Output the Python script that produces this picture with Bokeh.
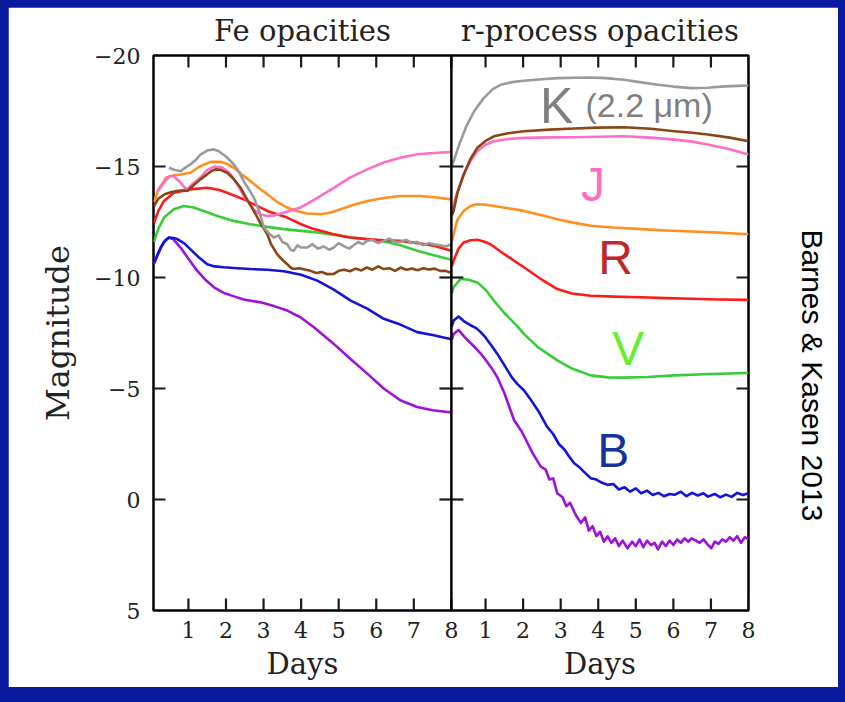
import math
import numpy as np
from bokeh.plotting import figure
from bokeh.layouts import column
from bokeh.models import (Range1d, LinearAxis, FixedTicker, Label, Span,
                          CustomJSTickFormatter)
from bokeh.embed import file_html
from bokeh.resources import INLINE

# ---------------- data ----------------
panel_titles = ["Fe opacities", "r-process opacities"]
x_axis_label = "Days"
y_axis_label = "Magnitude"
x_ticks = [1, 2, 3, 4, 5, 6, 7, 8]
y_ticks = [-20, -15, -10, -5, 0, 5]
band_names = ["U", "B", "V", "R", "I", "J", "H", "K"]
band_labels = ["K", "J", "R", "V", "B"]
k_note = "(2.2 \u03bcm)"
credit = "Barnes & Kasen 2013"

# Fe opacities panel
fe_U_day = [0.08, 0.18, 0.3, 0.4, 0.48, 0.6, 0.79, 1.0, 1.23, 1.45, 1.68, 1.95, 2.21, 2.5, 2.92, 3.3, 3.63, 3.98, 4.34, 4.87, 5.3, 5.76, 6.2, 6.64, 7.09, 7.5, 8.0]
fe_U_mag = [-10.6, -11.0, -11.45, -11.7, -11.8, -11.72, -11.35, -10.85, -10.31, -9.9, -9.56, -9.3, -9.15, -9.0, -8.88, -8.7, -8.51, -8.21, -7.76, -7.01, -6.35, -5.67, -5.0, -4.47, -4.17, -4.02, -3.92]
fe_B_day = [0.08, 0.18, 0.26, 0.36, 0.48, 0.6, 0.7, 0.88, 1.05, 1.25, 1.5, 1.7, 1.94, 2.3, 2.65, 3.1, 3.54, 4.0, 4.43, 4.87, 5.32, 5.76, 6.2, 6.64, 7.09, 7.53, 8.0]
fe_B_mag = [-10.65, -11.05, -11.35, -11.62, -11.8, -11.78, -11.73, -11.55, -11.28, -10.95, -10.6, -10.5, -10.46, -10.42, -10.38, -10.35, -10.28, -10.12, -9.86, -9.45, -8.96, -8.6, -8.14, -7.88, -7.54, -7.4, -7.22]
fe_V_day = [0.08, 0.2, 0.35, 0.61, 0.88, 1.14, 1.4, 1.77, 2.2, 2.65, 3.1, 3.54, 4.0, 4.43, 4.9, 5.32, 5.76, 6.2, 6.64, 7.09, 7.53, 8.0]
fe_V_mag = [-11.6, -12.2, -12.7, -13.07, -13.22, -13.15, -13.0, -12.77, -12.55, -12.4, -12.28, -12.18, -12.1, -12.03, -11.92, -11.8, -11.72, -11.62, -11.45, -11.2, -11.0, -10.8]
fe_R_day = [0.08, 0.2, 0.35, 0.61, 1.05, 1.5, 1.8, 2.03, 2.47, 2.8, 3.1, 3.63, 4.0, 4.34, 4.87, 5.3, 5.76, 6.2, 6.64, 7.1, 7.53, 8.0]
fe_R_mag = [-12.45, -13.0, -13.45, -13.82, -13.97, -14.04, -13.95, -13.82, -13.52, -13.25, -13.0, -12.7, -12.4, -12.18, -11.95, -11.8, -11.73, -11.68, -11.65, -11.55, -11.43, -11.2]
fe_I_day = [0.08, 0.2, 0.4, 0.6, 0.79, 1.05, 1.3, 1.59, 1.86, 2.05, 2.21, 2.45, 2.65, 2.9, 3.1, 3.35, 3.63, 3.9, 4.16, 4.51, 4.8, 5.05, 5.4, 5.76, 6.2, 6.64, 7.18, 7.6, 8.0]
fe_I_mag = [-13.4, -13.95, -14.49, -14.6, -14.64, -14.72, -15.0, -15.21, -15.21, -15.1, -14.94, -14.6, -14.34, -14.0, -13.75, -13.42, -13.15, -12.98, -12.88, -12.85, -12.93, -13.07, -13.28, -13.45, -13.58, -13.67, -13.67, -13.6, -13.52]
fe_J_day = [0.2, 0.35, 0.5, 0.6, 0.75, 0.9, 0.97, 1.1, 1.32, 1.5, 1.7, 1.9, 2.1, 2.3, 2.5, 2.74, 2.9, 3.1, 3.3, 3.6, 3.98, 4.4, 4.87, 5.3, 5.76, 6.2, 6.64, 7.1, 7.53, 8.0]
fe_J_mag = [-13.9, -14.3, -14.55, -14.57, -14.35, -14.05, -13.97, -14.2, -14.5, -14.85, -15.0, -14.95, -14.7, -14.2, -13.6, -13.05, -12.85, -12.77, -12.8, -12.95, -13.15, -13.55, -14.04, -14.5, -14.87, -15.18, -15.39, -15.55, -15.61, -15.65]
fe_H_day = [0.08, 0.2, 0.37, 0.55, 0.7, 0.85, 0.97, 1.1, 1.2, 1.32, 1.5, 1.6, 1.72, 1.85, 2.03, 2.2, 2.39, 2.55, 2.74, 2.9, 3.1, 3.2, 3.36, 3.5, 3.63, 3.72, 3.8, 3.95, 4.1, 4.25, 4.4, 4.55, 4.7, 4.87, 5.0, 5.15, 5.3, 5.45, 5.6, 5.75, 5.9, 6.05, 6.2, 6.35, 6.5, 6.65, 6.8, 6.95, 7.1, 7.25, 7.4, 7.55, 7.7, 7.85, 8.0]
fe_H_mag = [-13.2, -13.55, -13.75, -13.85, -13.9, -13.92, -13.9, -14.1, -14.25, -14.42, -14.65, -14.78, -14.87, -14.85, -14.72, -14.45, -14.04, -13.55, -13.0, -12.5, -11.95, -11.5, -11.05, -10.8, -10.6, -10.45, -10.38, -10.42, -10.36, -10.3, -10.2, -10.25, -10.15, -10.16, -10.3, -10.35, -10.28, -10.4, -10.32, -10.45, -10.35, -10.5, -10.38, -10.42, -10.3, -10.45, -10.35, -10.4, -10.33, -10.42, -10.36, -10.4, -10.3, -10.3, -10.2]
fe_K_day = [0.48, 0.62, 0.79, 0.92, 1.05, 1.2, 1.32, 1.5, 1.68, 1.81, 2.0, 2.21, 2.35, 2.47, 2.6, 2.74, 2.88, 3.01, 3.14, 3.27, 3.4, 3.5, 3.63, 3.72, 3.8, 3.9, 4.0, 4.16, 4.3, 4.45, 4.6, 4.75, 4.87, 5.0, 5.15, 5.28, 5.4, 5.52, 5.64, 5.76, 5.9, 6.05, 6.2, 6.35, 6.5, 6.64, 6.8, 6.95, 7.09, 7.25, 7.4, 7.53, 7.7, 7.85, 8.0]
fe_K_mag = [-14.94, -14.85, -14.79, -14.95, -15.09, -15.3, -15.54, -15.72, -15.77, -15.69, -15.45, -15.09, -14.75, -14.34, -14.0, -13.6, -13.0, -12.25, -12.0, -11.8, -11.9, -11.6, -11.5, -11.25, -11.2, -11.45, -11.35, -11.35, -11.5, -11.3, -11.4, -11.25, -11.35, -11.55, -11.4, -11.3, -11.45, -11.6, -11.5, -11.65, -11.7, -11.55, -11.65, -11.75, -11.6, -11.6, -11.7, -11.55, -11.6, -11.45, -11.55, -11.5, -11.45, -11.4, -11.5]

# r-process opacities panel
r_U_day = [0.1, 0.15, 0.28, 0.45, 0.6, 0.75, 0.87, 1.0, 1.15, 1.31, 1.5, 1.76, 1.95, 2.1, 2.25, 2.47, 2.6, 2.7, 2.8, 2.91, 3.05, 3.15, 3.25, 3.4, 3.54, 3.65, 3.75, 3.85, 3.95, 4.05, 4.15, 4.25, 4.35, 4.45, 4.55, 4.65, 4.78, 4.9, 5.0, 5.1, 5.2, 5.3, 5.4, 5.5, 5.59, 5.7, 5.8, 5.9, 6.0, 6.1, 6.2, 6.3, 6.4, 6.48, 6.6, 6.7, 6.8, 6.9, 7.01, 7.1, 7.2, 7.3, 7.4, 7.5, 7.6, 7.7, 7.8, 7.9, 8.0]
r_U_mag = [-7.2, -7.46, -7.64, -7.3, -7.05, -6.8, -6.57, -6.3, -5.95, -5.52, -4.8, -3.57, -3.1, -2.6, -2.1, -1.48, -1.35, -0.9, -0.95, -0.28, -0.1, 0.3, 0.15, 0.7, 1.06, 0.8, 1.4, 1.2, 1.65, 1.45, 1.9, 1.66, 1.95, 1.75, 2.1, 1.85, 2.2, 1.9, 2.1, 1.8, 2.15, 1.85, 2.05, 1.95, 2.25, 1.9, 2.1, 1.85, 2.05, 1.8, 1.95, 1.75, 1.9, 1.75, 1.85, 1.95, 1.8, 2.0, 2.2, 1.9, 2.0, 1.8, 1.9, 1.7, 1.85, 1.65, 1.95, 1.7, 1.8]
r_B_day = [0.1, 0.15, 0.28, 0.45, 0.6, 0.75, 0.87, 1.0, 1.15, 1.31, 1.5, 1.7, 1.85, 2.02, 2.2, 2.4, 2.64, 2.8, 2.95, 3.1, 3.22, 3.36, 3.5, 3.65, 3.8, 3.95, 4.1, 4.25, 4.4, 4.55, 4.7, 4.85, 5.0, 5.14, 5.3, 5.45, 5.6, 5.75, 5.9, 6.03, 6.2, 6.35, 6.5, 6.65, 6.8, 6.92, 7.1, 7.25, 7.4, 7.55, 7.7, 7.85, 8.0]
r_B_mag = [-7.8, -8.06, -8.24, -8.0, -7.85, -7.72, -7.54, -7.3, -6.95, -6.57, -6.05, -5.5, -5.2, -4.92, -4.5, -4.0, -3.27, -2.95, -2.5, -2.25, -1.95, -1.63, -1.45, -1.2, -0.96, -0.9, -0.75, -0.66, -0.7, -0.45, -0.55, -0.35, -0.5, -0.28, -0.4, -0.2, -0.3, -0.15, -0.25, -0.21, -0.35, -0.15, -0.3, -0.18, -0.28, -0.13, -0.25, -0.1, -0.22, -0.12, -0.3, -0.2, -0.28]
r_V_day = [0.1, 0.15, 0.33, 0.55, 0.78, 1.0, 1.22, 1.5, 1.85, 2.02, 2.4, 2.91, 3.3, 3.8, 4.25, 4.69, 5.3, 6.03, 7.0, 8.0]
r_V_mag = [-9.3, -9.56, -9.93, -9.9, -9.78, -9.45, -8.96, -8.4, -7.8, -7.46, -6.85, -6.27, -5.9, -5.59, -5.5, -5.49, -5.52, -5.59, -5.65, -5.7]
r_R_day = [0.1, 0.15, 0.28, 0.42, 0.6, 0.78, 0.95, 1.13, 1.5, 2.02, 2.5, 2.91, 3.3, 3.8, 4.4, 5.14, 5.8, 6.48, 7.2, 8.0]
r_R_mag = [-10.5, -10.75, -11.3, -11.58, -11.68, -11.7, -11.62, -11.5, -11.05, -10.46, -9.9, -9.48, -9.28, -9.18, -9.14, -9.11, -9.07, -9.04, -9.01, -8.99]
r_I_day = [0.1, 0.15, 0.25, 0.42, 0.6, 0.78, 1.0, 1.22, 1.6, 2.02, 2.5, 2.91, 3.4, 3.8, 4.4, 5.14, 5.8, 6.48, 7.2, 8.0]
r_I_mag = [-11.6, -11.95, -12.6, -13.0, -13.22, -13.3, -13.28, -13.22, -13.12, -13.0, -12.8, -12.62, -12.45, -12.33, -12.25, -12.18, -12.12, -12.07, -12.02, -11.95]
r_J_day = [0.1, 0.2, 0.4, 0.6, 0.78, 1.0, 1.22, 1.6, 2.02, 2.7, 3.36, 4.0, 4.69, 5.4, 6.03, 6.5, 6.92, 7.5, 8.0]
r_J_mag = [-12.8, -13.6, -14.6, -15.25, -15.69, -15.98, -16.14, -16.24, -16.29, -16.31, -16.32, -16.34, -16.36, -16.3, -16.21, -16.12, -15.99, -15.78, -15.54]
r_H_day = [0.1, 0.15, 0.25, 0.42, 0.6, 0.78, 1.0, 1.22, 1.6, 2.02, 2.7, 3.36, 4.0, 4.69, 5.4, 6.03, 6.5, 6.92, 7.5, 8.0]
r_H_mag = [-12.8, -13.0, -13.8, -14.64, -15.35, -15.84, -16.15, -16.36, -16.5, -16.59, -16.66, -16.71, -16.75, -16.77, -16.7, -16.59, -16.52, -16.44, -16.3, -16.14]
r_K_day = [0.1, 0.15, 0.3, 0.51, 0.7, 0.95, 1.2, 1.4, 1.7, 2.02, 2.5, 2.91, 3.4, 3.8, 4.2, 4.69, 5.1, 5.59, 6.0, 6.48, 6.9, 7.37, 7.7, 8.0]
r_K_mag = [-15.0, -15.24, -16.0, -16.89, -17.5, -18.08, -18.5, -18.68, -18.8, -18.86, -18.93, -18.98, -19.0, -19.01, -18.98, -18.91, -18.8, -18.68, -18.6, -18.53, -18.55, -18.61, -18.63, -18.65]

fe_curves = {"U": (fe_U_day, fe_U_mag), "B": (fe_B_day, fe_B_mag), "V": (fe_V_day, fe_V_mag),
             "R": (fe_R_day, fe_R_mag), "I": (fe_I_day, fe_I_mag), "J": (fe_J_day, fe_J_mag),
             "H": (fe_H_day, fe_H_mag), "K": (fe_K_day, fe_K_mag)}
r_curves = {"U": (r_U_day, r_U_mag), "B": (r_B_day, r_B_mag), "V": (r_V_day, r_V_mag),
            "R": (r_R_day, r_R_mag), "I": (r_I_day, r_I_mag), "J": (r_J_day, r_J_mag),
            "H": (r_H_day, r_H_mag), "K": (r_K_day, r_K_mag)}

# ---------------- style ----------------
LINE_COLORS = {"U": "#9b12d8", "B": "#1414d8", "V": "#38cc38", "R": "#ff1a1a",
               "I": "#ff8f1f", "J": "#ff6ec4", "H": "#8b4513", "K": "#9a9a9a"}
BORDER_BLUE = "#0b1ba0"
INK = "#222222"
TICK_COLOR = "#1a1a1a"
TICK_W = 2.2
SERIF = "DejaVu Serif"
SANS = "Liberation Sans"

FRAME_W, FRAME_H = 595, 555
FE_START, R_START, X_END = 0.07, 0.09, 8.0
Y_TOP, Y_BOTTOM = -20, 5
SPAN = (X_END - FE_START) + (X_END - R_START)
OFFSET = X_END - R_START          # r coordinate = fe coordinate - OFFSET
CREDIT_Y = -5.59                  # vertical centre of the credit text (data units)
TICK_PX = 12
TICK_DX = TICK_PX * SPAN / FRAME_W
TICK_DY = TICK_PX * (Y_BOTTOM - Y_TOP) / FRAME_H

p = figure(width=830, height=680, output_backend="svg", toolbar_location=None,
           x_range=Range1d(X_END - SPAN, X_END), y_range=Range1d(Y_BOTTOM, Y_TOP),
           x_axis_type=None, y_axis_type=None,
           min_border_left=145, min_border_right=90, min_border_top=48, min_border_bottom=77)
p.extra_x_ranges = {"fe": Range1d(FE_START, FE_START + SPAN)}
p.background_fill_color = "white"
p.border_fill_color = "white"
p.outline_line_color = "black"
p.outline_line_width = 2.5
p.outline_line_alpha = 1.0

xticks_all = [t - OFFSET for t in x_ticks] + x_ticks
panel_centres = [(FE_START + X_END) / 2 - OFFSET, (R_START + X_END) / 2]
x_fmt = CustomJSTickFormatter(args=dict(off=OFFSET, start=R_START),
                              code="const v = tick < start + 0.5 ? tick + off : tick; return Math.round(v).toString();")
y_fmt = CustomJSTickFormatter(code="return tick < 0 ? '\\u2212' + Math.abs(tick) : String(tick);")


def plain(ax):
    ax.axis_line_color = None
    ax.major_tick_in = 0
    ax.major_tick_out = 0
    ax.minor_tick_in = 0
    ax.minor_tick_out = 0
    return ax


def labelled(ax):
    plain(ax)
    ax.major_label_text_font = SERIF
    ax.major_label_text_font_size = "22px"
    ax.major_label_text_color = INK
    return ax


# bottom: day labels, then the "Days" labels below them
bottom = labelled(LinearAxis(ticker=FixedTicker(ticks=xticks_all), formatter=x_fmt))
bottom.major_label_standoff = 11
p.add_layout(bottom, "below")
days_axis = plain(LinearAxis(ticker=FixedTicker(ticks=panel_centres),
                             formatter=CustomJSTickFormatter(args=dict(t=x_axis_label), code="return t;")))
days_axis.major_label_text_font = SERIF
days_axis.major_label_text_font_size = "29px"
days_axis.major_label_text_color = INK
days_axis.major_label_standoff = 6
p.add_layout(days_axis, "below")

# top: panel titles
title_axis = plain(LinearAxis(ticker=FixedTicker(ticks=panel_centres),
                              formatter=CustomJSTickFormatter(
                                  args=dict(a=panel_titles[0], b=panel_titles[1], mid=R_START),
                                  code="return tick < mid ? a : b;")))
title_axis.major_label_text_font = SERIF
title_axis.major_label_text_font_size = "29px"
title_axis.major_label_text_color = INK
title_axis.major_label_standoff = 8
p.add_layout(title_axis, "above")

# left: magnitude labels
left = labelled(LinearAxis(ticker=FixedTicker(ticks=y_ticks), formatter=y_fmt,
                           axis_label=y_axis_label))
left.major_label_standoff = 13
left.axis_label_text_font = SERIF
left.axis_label_text_font_size = "32px"
left.axis_label_text_font_style = "normal"
left.axis_label_text_color = INK
left.axis_label_standoff = 14
p.add_layout(left, "left")

# right: credit text reading top to bottom
credit_axis = plain(LinearAxis(ticker=FixedTicker(ticks=[CREDIT_Y]),
                               formatter=CustomJSTickFormatter(args=dict(t=credit), code="return t;")))
credit_axis.major_label_orientation = "parallel"
credit_axis.major_label_text_font = SANS
credit_axis.major_label_text_font_size = "30px"
credit_axis.major_label_text_color = "black"
credit_axis.major_label_standoff = 47
p.add_layout(credit_axis, "right")

# curves
order = ["U", "B", "V", "R", "I", "J", "H", "K"]
for b in order:
    d, m = fe_curves[b]
    p.line(d, m, line_color=LINE_COLORS[b], line_width=2.6, line_join="round", x_range_name="fe")
for b in order:
    d, m = r_curves[b]
    p.line(d, m, line_color=LINE_COLORS[b], line_width=2.6, line_join="round")

# inward tick marks on every edge of both panels
nx = len(xticks_all)
inner = y_ticks[1:-1]
ny = len(inner)
tick_style = dict(line_color=TICK_COLOR, line_width=TICK_W)
p.segment(x0=xticks_all, y0=[Y_TOP] * nx, x1=xticks_all, y1=[Y_TOP + TICK_DY] * nx, **tick_style)
p.segment(x0=xticks_all, y0=[Y_BOTTOM] * nx, x1=xticks_all, y1=[Y_BOTTOM - TICK_DY] * nx, **tick_style)
p.segment(x0=[X_END] * ny, y0=inner, x1=[X_END - TICK_DX] * ny, y1=inner, **tick_style)
p.segment(x0=[R_START] * ny, y0=inner, x1=[R_START + TICK_DX] * ny, y1=inner, **tick_style)
p.segment(x0=[X_END - TICK_DX] * ny, y0=inner, x1=[X_END] * ny, y1=inner,
          x_range_name="fe", **tick_style)
p.segment(x0=[FE_START] * ny, y0=inner, x1=[FE_START + TICK_DX] * ny, y1=inner,
          x_range_name="fe", **tick_style)
p.add_layout(Span(location=X_END, dimension="height", x_range_name="fe",
                  line_color="black", line_width=2.5))


def label(x, y, text, size, color, font, align="center"):
    p.add_layout(Label(x=x, y=y, text=text, text_font=font, text_font_size=size,
                       text_color=color, text_align=align, text_baseline="alphabetic"))


# band annotations in the r-process panel
label(2.89, -17.71, band_labels[0], "50px", "#7f7f7f", SANS)
label(3.66, -17.75, k_note, "34px", "#7f7f7f", SANS, align="left")
label(3.86, -14.19, band_labels[1], "48px", "#ff6ec4", SANS)
label(4.46, -10.91, band_labels[2], "48px", "#c0272d", SANS)
label(4.80, -6.81, band_labels[3], "48px", "#66ee33", SANS)
label(4.40, -2.21, band_labels[4], "48px", "#14349c", SANS)

layout = column(p, styles={"background-color": BORDER_BLUE, "padding": "7px 7px 15px 8px"})

open("out.html", "w", encoding="utf-8").write(file_html(layout, INLINE))
